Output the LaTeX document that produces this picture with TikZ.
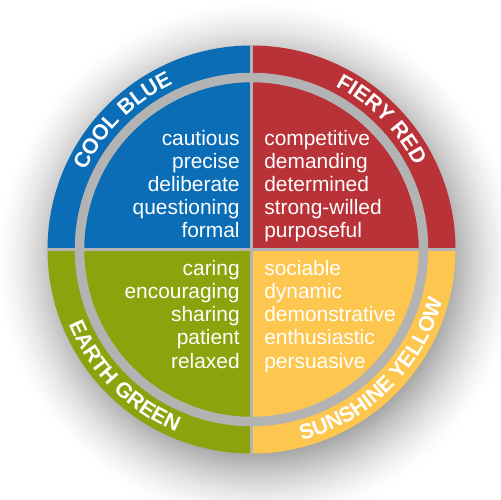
\documentclass[tikz,border=0pt]{standalone}
\usepackage{fontspec}
\setmainfont{Liberation Sans}
\usepackage{tikz}
\usetikzlibrary{decorations.text}

\definecolor{coolblue}{HTML}{0A6DB5}
\definecolor{fieryred}{HTML}{B83237}
\definecolor{earthgreen}{HTML}{8BA40E}
\definecolor{sunyellow}{HTML}{FCC64F}
\definecolor{ringgray}{HTML}{B3B3B3}
\newcommand{\ringfont}{\bfseries\fontsize{12.2}{14}\selectfont}

\begin{document}
\begin{tikzpicture}[x=0.02cm,y=0.02cm,
    words/.style={text=white,inner sep=0pt,font=\fontsize{11.9}{13.1}\selectfont},
    ringtext/.style={decorate,decoration={text along path,text align=center,text color=white,text={|\ringfont|#1}}}]
  \useasboundingbox (-251.5,-250.5) rectangle (248.5,249.5);
  \fill[white] (-251.5,-250.5) rectangle (248.5,249.5);
  % soft shadow under the disc
  \foreach \r in {262,261,...,190}{
    \pgfmathsetmacro\shd{36*((262-\r)/72)^1.5}
    \fill[black!\shd] (6,-12) circle (\r);
  }
  % the four quarters
  \foreach \a/\col in {90/fieryred,180/coolblue,270/earthgreen,360/sunyellow}
    \fill[\col] (0,0) -- (\a-90:204) arc[start angle=\a-90,end angle=\a,radius=204] -- cycle;
  \draw[ringgray,line width=0.19cm] (0,0) circle (172);
  \draw[ringgray,line width=0.06cm] (-204,0) -- (204,0) (0,-204) -- (0,204);
  % names round the rim
  \path[ringtext={COOL BLUE}] (180:183.5) arc[start angle=180,end angle=90,radius=183.5];
  \path[ringtext={FIERY RED}] (90:183.5) arc[start angle=90,end angle=0,radius=183.5];
  \path[ringtext={EARTH GREEN}] (180:197.5) arc[start angle=180,end angle=270,radius=197.5];
  \path[ringtext={SUNSHINE YELLOW}] (270:197.5) arc[start angle=270,end angle=360,radius=197.5];
  % traits (base = last line)
  \node[words,anchor=base east,align=right] (blue) at (-11.5,11.5)
    {cautious\\precise\\deliberate\\questioning\\formal};
  \node[words,anchor=base west,align=left] (red) at (12.5,11.5)
    {competitive\\demanding\\determined\\strong-willed\\purposeful};
  \node[words,anchor=base east,align=right] (green) at (-11.5,-118.5)
    {caring\\encouraging\\sharing\\patient\\relaxed};
  \node[words,anchor=base west,align=left] (yellow) at (12.5,-118.5)
    {sociable\\dynamic\\demonstrative\\enthusiastic\\persuasive};
\end{tikzpicture}
\end{document}
